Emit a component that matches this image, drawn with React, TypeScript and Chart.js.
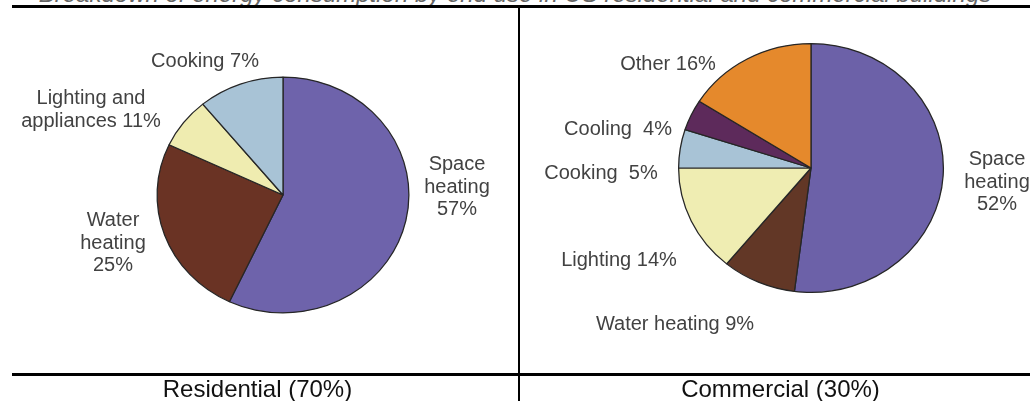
import React, { useEffect, useRef } from "react";
import { Chart, registerables } from "chart.js";

Chart.register(...registerables);

// ---- data ----
const resCategories = ["Space heating", "Water heating", "Lighting and appliances", "Cooking"];
const resValues = [57, 25, 7, 11];
const resColors = ["#6e63ab", "#6a3324", "#efecb0", "#a8c3d6"];

const comCategories = ["Space heating", "Water heating", "Lighting", "Cooking", "Cooling", "Other"];
const comValues = [52, 9, 14, 5, 4, 16];
const comColors = ["#6c61a8", "#623726", "#efedb2", "#a8c3d6", "#5d2a5b", "#e5892c"];

const titleText = "Breakdown of energy consumption by end use in US residential and commercial buildings";
const panelTitles = ["Residential (70%)", "Commercial (30%)"];

// label text lines (positions in canvas coordinates)
const resLabels = [
  { lines: ["Cooking 7%"], x: 205, y: 67 },
  { lines: ["Lighting and", "appliances 11%"], x: 91, y: 104 },
  { lines: ["Space", "heating", "57%"], x: 457, y: 170 },
  { lines: ["Water", "heating", "25%"], x: 113, y: 226 },
];
const comLabels = [
  { lines: ["Other 16%"], x: 668 - 521, y: 70 },
  { lines: ["Cooling  4%"], x: 618 - 521, y: 135 },
  { lines: ["Cooking  5%"], x: 601 - 521, y: 179 },
  { lines: ["Lighting 14%"], x: 619 - 521, y: 266 },
  { lines: ["Water heating 9%"], x: 675 - 521, y: 330 },
  { lines: ["Space", "heating", "52%"], x: 997 - 521, y: 165 },
];

const FONT = '"Liberation Sans", Arial, Helvetica, sans-serif';

const ellipsePlugin = {
  id: "ellipse",
  beforeDatasetsDraw(chart: any, _args: any, opts: any) {
    const arc = chart.getDatasetMeta(0).data[0];
    if (!arc) return;
    const ctx = chart.ctx;
    ctx.save();
    ctx.translate(arc.x, arc.y);
    ctx.scale(opts.sx || 1, 1);
    ctx.translate(-arc.x, -arc.y);
  },
  afterDatasetsDraw(chart: any) {
    chart.ctx.restore();
  },
};

const labelPlugin = {
  id: "sliceLabels",
  afterDraw(chart: any, _args: any, opts: any) {
    const ctx = chart.ctx;
    ctx.save();
    ctx.font = `20px ${FONT}`;
    ctx.fillStyle = "#424242";
    ctx.textAlign = "center";
    ctx.textBaseline = "alphabetic";
    (opts.items || []).forEach((it: any) => {
      it.lines.forEach((ln: string, i: number) => {
        ctx.fillText(ln, it.x, it.y + i * 22.5);
      });
    });
    ctx.restore();
  },
};

function PieCanvas(props: {
  values: number[];
  labels: string[];
  colors: string[];
  items: any[];
  width: number;
  height: number;
  padding: { left: number; right: number; top: number; bottom: number };
  sx: number;
  style: React.CSSProperties;
}) {
  const ref = useRef<HTMLCanvasElement | null>(null);
  useEffect(() => {
    if (!ref.current) return;
    const chart = new Chart(ref.current, {
      type: "pie",
      data: {
        labels: props.labels,
        datasets: [
          {
            data: props.values,
            backgroundColor: props.colors,
            borderColor: "#262626",
            borderWidth: 1.2,
            clip: false as any,
          },
        ],
      },
      options: {
        responsive: false,
        maintainAspectRatio: false,
        animation: false,
        devicePixelRatio: 1,
        layout: { padding: props.padding },
        plugins: {
          legend: { display: false },
          tooltip: { enabled: false },
          ellipse: { sx: props.sx },
          sliceLabels: { items: props.items },
        } as any,
      },
      plugins: [ellipsePlugin, labelPlugin],
    });
    return () => chart.destroy();
  }, []);
  return <canvas ref={ref} width={props.width} height={props.height} style={props.style} />;
}

export default function App() {
  const line: React.CSSProperties = { position: "absolute", background: "#000" };
  return (
    <div
      style={{
        position: "fixed",
        left: 0,
        top: 0,
        width: 1030,
        height: 401,
        background: "#fff",
        overflow: "hidden",
        fontFamily: FONT,
      }}
    >
      <div
        style={{
          position: "absolute",
          left: 0,
          width: 1030,
          top: -18,
          lineHeight: "24px",
          fontSize: 24,
          fontStyle: "italic",
          textAlign: "center",
          color: "#666",
          whiteSpace: "nowrap",
        }}
      >
        {titleText}
      </div>
      <PieCanvas
        values={resValues}
        labels={resCategories}
        colors={resColors}
        items={resLabels}
        width={519}
        height={373}
        padding={{ left: 164.5, right: 117.5, top: 76.5, bottom: 59.5 }}
        sx={126 / 118}
        style={{ position: "absolute", left: 0, top: 0 }}
      />
      <PieCanvas
        values={comValues}
        labels={comCategories}
        colors={comColors}
        items={comLabels}
        width={509}
        height={373}
        padding={{ left: 165, right: 94, top: 43, bottom: 80 }}
        sx={132.5 / 124.5}
        style={{ position: "absolute", left: 521, top: 0 }}
      />
      <div style={{ ...line, left: 12, top: 5, width: 1018, height: 3 }} />
      <div style={{ ...line, left: 518, top: 8, width: 2, height: 393 }} />
      <div style={{ ...line, left: 12, top: 373, width: 1018, height: 3 }} />
      {panelTitles.map((t, i) => (
        <div
          key={t}
          style={{
            position: "absolute",
            left: (i === 0 ? 257.5 : 780.5) - 200,
            width: 400,
            top: 377,
            lineHeight: "24px",
            fontSize: 24,
            textAlign: "center",
            color: "#111",
            whiteSpace: "nowrap",
          }}
        >
          {t}
        </div>
      ))}
    </div>
  );
}
